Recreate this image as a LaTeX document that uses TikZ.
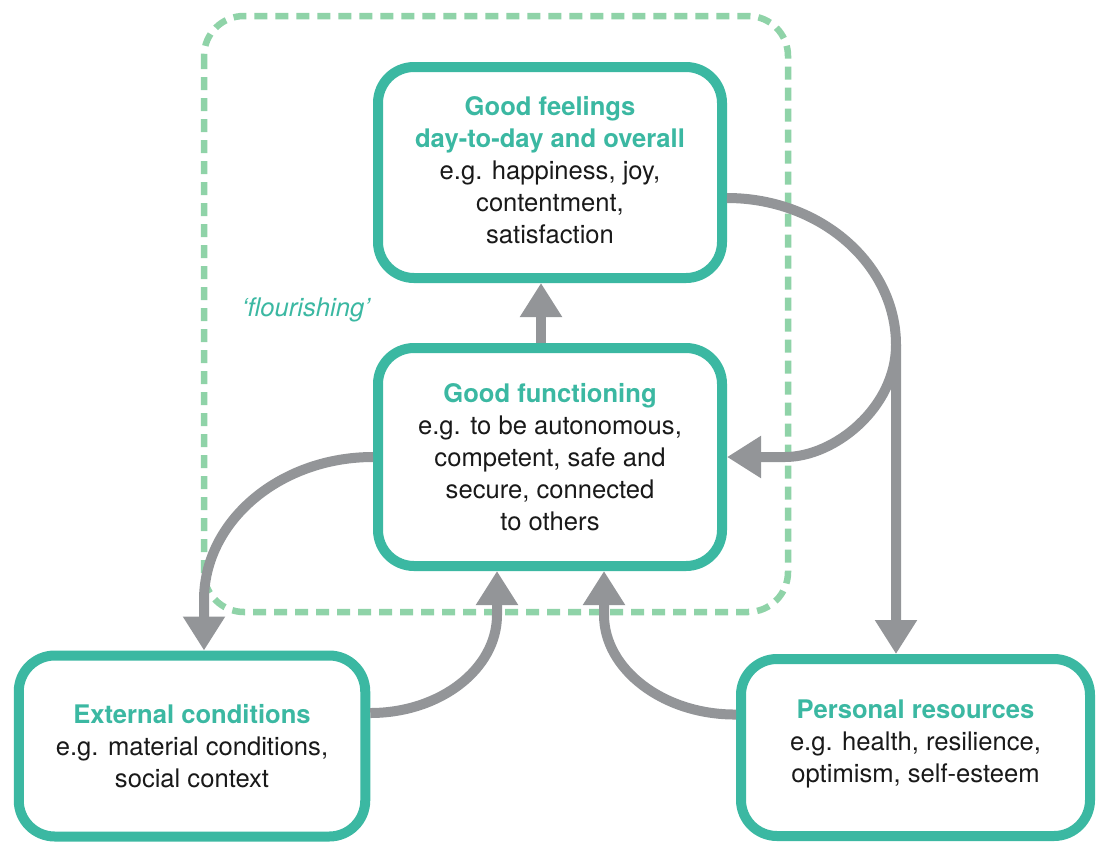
\documentclass[tikz,border=0pt]{standalone}
\usepackage{fontspec}
\setmainfont{TeX Gyre Heros}
\usetikzlibrary{arrows.meta}
\definecolor{teal1}{RGB}{59,184,162}
\definecolor{arrowgray}{RGB}{147,149,152}
\definecolor{dashgreen}{RGB}{143,211,168}
\definecolor{textdark}{RGB}{25,25,25}
\newcommand\boxtitle[1]{{\bfseries\color{teal1}#1}}
\begin{document}
\begin{tikzpicture}[x=1pt,y=-1pt,
  box/.style={draw=teal1, line width=10pt, rounded corners=36pt, fill=white,
    align=center, text=textdark, inner sep=0pt,
    font=\fontsize{25.6}{32}\selectfont},
  conn/.style={draw=arrowgray, line width=10pt,
    -{Triangle[length=34pt,width=40pt]}},
  flour/.style={text=teal1, font=\fontsize{25.6}{32}\selectfont\itshape},
  region/.style={draw=dashgreen, line width=6.5pt, dash pattern=on 13pt off 8pt,
    rounded corners=40pt}]
\useasboundingbox (0,0) rectangle (1099,841);
% dashed 'flourishing' region
\draw[region] (204,16) rectangle (788,612);
% boxes
\node[box, minimum width=344pt, minimum height=211pt] (top) at (550,172.5)
  {\boxtitle{Good feelings}\\\boxtitle{day-to-day and overall}\\e.g. happiness, joy,\\contentment,\\satisfaction\rule[-6pt]{0pt}{6pt}};
\node[box, minimum width=344pt, minimum height=218pt] (mid) at (550,457)
  {\boxtitle{Good functioning}\\e.g. to be autonomous,\\competent, safe and\\secure, connected\\to others};
\node[box, minimum width=346.5pt, minimum height=181pt] (ext) at (192,746)
  {\boxtitle{External conditions}\\e.g. material conditions,\\social context};
\node[box, minimum width=349pt, minimum height=177pt] (pers) at (915.5,747.5)
  {\boxtitle{Personal resources}\\e.g. health, resilience,\\optimism, self-esteem\rule[-13.5pt]{0pt}{1pt}};
\node[flour] (fl) at (306,310) {‘flourishing’};
% connectors
\coordinate (split) at (896,345);
\coordinate (bend) at (785,457);
\draw[conn] ([xshift=-9pt]mid.north) -- ([xshift=-9pt]top.south);
\draw[conn] ([yshift=-25.5pt]top.east) .. controls (820,198) and (896,264) .. (split)
  -- ([xshift=-19.5pt]pers.north);
\draw[conn] (split) .. controls (896,407) and (835,457) .. (bend) -- (mid.east);
\draw[conn] (mid.west) .. controls (280,457) and (204,521) .. (204,600)
  -- ([xshift=12pt]ext.north);
\draw[conn] ([yshift=33pt]ext.east) .. controls (440,713) and (497,669) .. (497,615)
  -- ([xshift=-53pt]mid.south);
\draw[conn] ([yshift=33pt]pers.west) .. controls (663,715) and (604,669) .. (604,615)
  -- ([xshift=54pt]mid.south);
\end{tikzpicture}
\end{document}
